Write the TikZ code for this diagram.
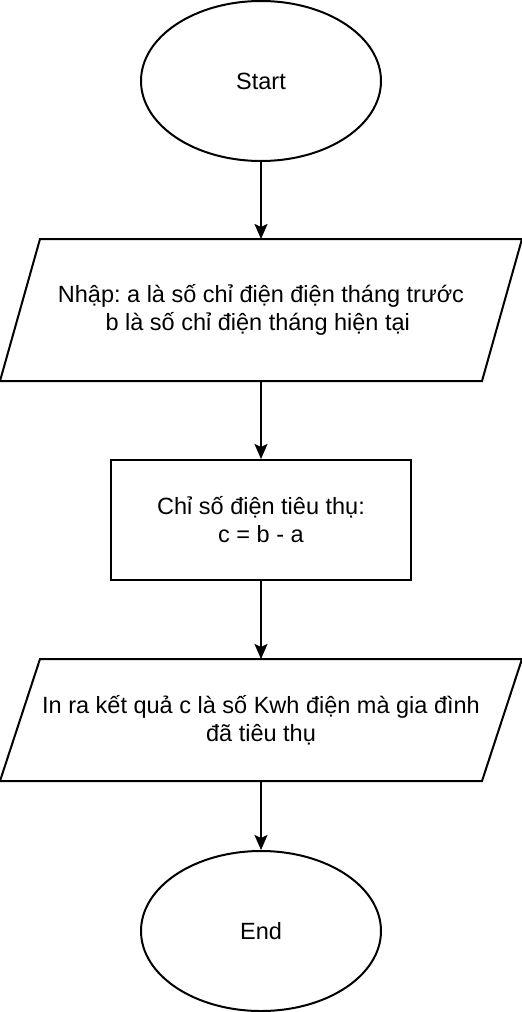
\documentclass[tikz,border=0pt]{standalone}
\usepackage{fontspec}
\setmainfont{Liberation Sans}
\usetikzlibrary{shapes.geometric,arrows.meta}
\frenchspacing
\begin{document}
\begin{tikzpicture}[x=1pt,y=-1pt,
  every node/.style={font=\fontsize{23.5}{28}\selectfont, align=center, line width=2pt},
  term/.style={ellipse, draw, minimum width=240pt, minimum height=160pt, inner sep=0pt},
  proc/.style={rectangle, draw, minimum width=300pt, minimum height=120pt, inner sep=0pt},
  iobox/.style={rectangle, minimum width=520pt, inner sep=0pt},
  conn/.style={line width=2pt, -{Stealth[length=15pt,width=13pt,inset=3pt]}},
  shapeline/.style={line width=2pt, line join=miter}]
\fill[white] (0,0) rectangle (522,1012);
\useasboundingbox (0,0) rectangle (522,1012);
\node[term] (start) at (261,81) {Start};
\node[iobox, minimum height=140pt] (in) at (261,310) {Nhập: a là số chỉ điện điện tháng trước\\b là số chỉ điện tháng hiện tại\hphantom{ }};
\draw[shapeline] ([xshift=40pt]in.north west) -- (in.north east) -- ([xshift=-40pt]in.south east) -- (in.south west) -- cycle;
\node[proc] (calc) at (261,520) {Chỉ số điện tiêu thụ:\\c = b - a};
\node[iobox, minimum height=120pt] (out) at (261,720) {In ra kết quả c là số Kwh điện mà gia đình\\đã tiêu thụ};
\draw[shapeline] ([xshift=40pt]out.north west) -- (out.north east) -- ([xshift=-40pt]out.south east) -- (out.south west) -- cycle;
\node[term] (end) at (261,931) {End};
\draw[conn] (start) -- (in);
\draw[conn] (in) -- (calc);
\draw[conn] (calc) -- (out);
\draw[conn] (out) -- (end);
\end{tikzpicture}
\end{document}
